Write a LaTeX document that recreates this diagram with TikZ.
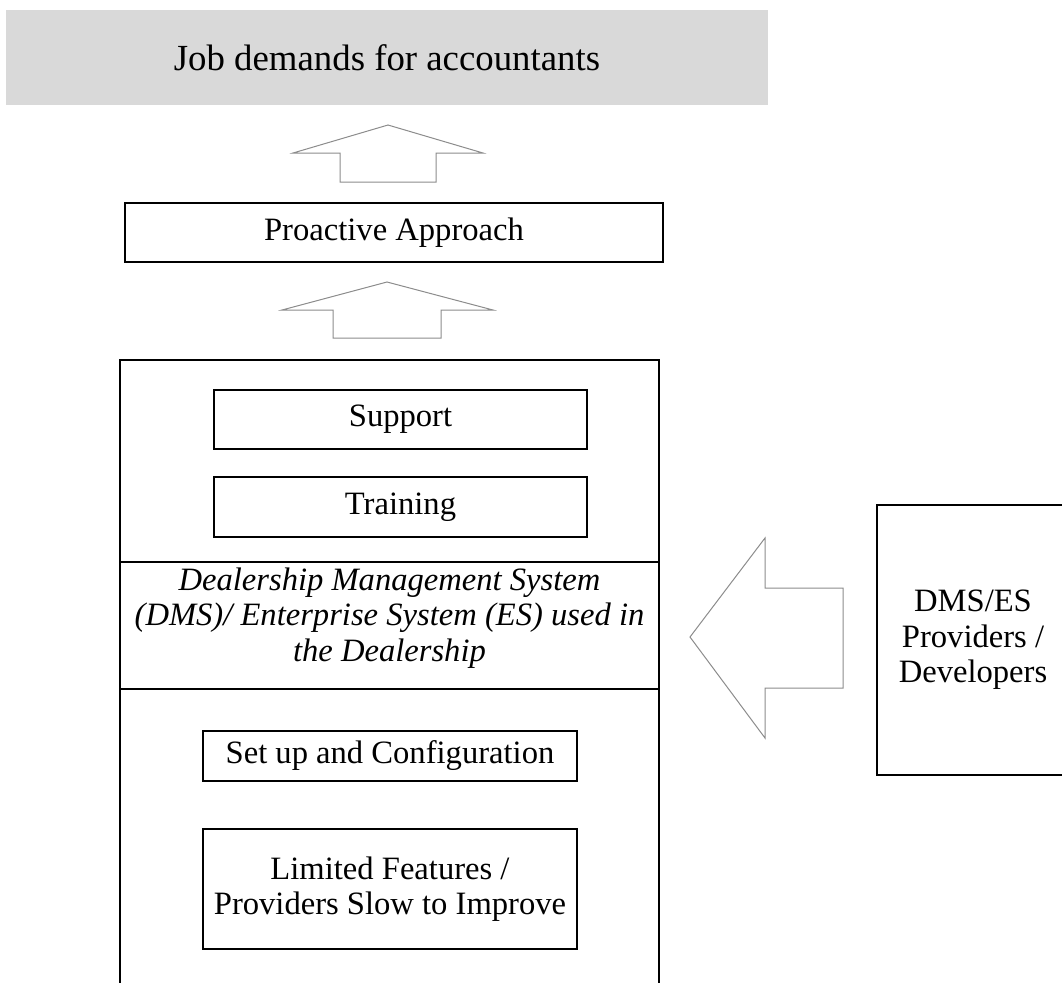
\documentclass[tikz,border=0pt]{standalone}
\usepackage{fontspec}
\setmainfont{Liberation Serif}
\usetikzlibrary{arrows.meta}
\tikzset{%
  % Specifications for style of nodes:
          base/.style = {rectangle, draw=black, line width=0.8pt,
                         inner sep=0pt, outer sep=0pt, align=center,
                         font=\fontsize{16.3}{17.8}\selectfont},
      titleBox/.style = {base, draw=none, fill=black!15,
                         font=\fontsize{18.4}{20}\selectfont},
       stepBox/.style = {base, minimum width=187pt},
    blockArrow/.style = {draw=black!45, line width=0.5pt, fill=white},
}
\begin{document}
\begin{tikzpicture}[x=0.5pt, y=-0.5pt]
  \useasboundingbox (0,0) rectangle (1062,982);

  % Specification of nodes (position, etc.)
  \node (title)     [titleBox, minimum width=381pt, minimum height=47.5pt]
                    at (387,57.5) {Job demands for accountants};
  \node (proactive) [base, minimum width=269pt, minimum height=29.5pt]
                    at (394,232.5) {Proactive Approach};
  \node (dealer)    [base, minimum width=269.5pt, minimum height=320pt]
                    at (389.5,680) {};
  \node (support)   [stepBox, minimum width=186.5pt, minimum height=29.5pt]
                    at (400.5,419.5) {Support};
  \node (training)  [stepBox, minimum width=186.5pt, minimum height=30pt]
                    at (400.5,507) {Training};
  \node (dms)       [base, draw=none] at (389.5,618)
    {\itshape Dealership Management System\\
     \itshape (DMS)/ Enterprise System (ES) used in\\
     \itshape the Dealership};
  \node (setup)     [stepBox, minimum height=25pt]
                    at (390,756) {Set up and Configuration};
  \node (limited)   [stepBox, minimum height=60pt]
                    at (390,889) {Limited Features /\\ Providers Slow to Improve};
  \node (providers) [base, minimum width=96pt, minimum height=135pt]
                    at (973,640) {DMS/ES\\ Providers /\\ Developers};

  % Dividing lines inside the dealership box
  \coordinate (divA) at (0,562);
  \coordinate (divB) at (0,689);
  \draw[line width=0.8pt] (dealer.west |- divA) -- (dealer.east |- divA);
  \draw[line width=0.8pt] (dealer.west |- divB) -- (dealer.east |- divB);

  % Block arrows between the boxes
  \draw[blockArrow] (388,125) -- (483,153) -- (436,153) -- (436,182)
    -- (340,182) -- (340,153) -- (293,153) -- cycle;
  \draw[blockArrow] (387,282) -- (493,310) -- (441,310) -- (441,338)
    -- (333,338) -- (333,310) -- (282,310) -- cycle;
  \draw[blockArrow] (690,637) -- (765,538) -- (765,588) -- (843,588)
    -- (843,688) -- (765,688) -- (765,738) -- cycle;

\end{tikzpicture}
\end{document}
